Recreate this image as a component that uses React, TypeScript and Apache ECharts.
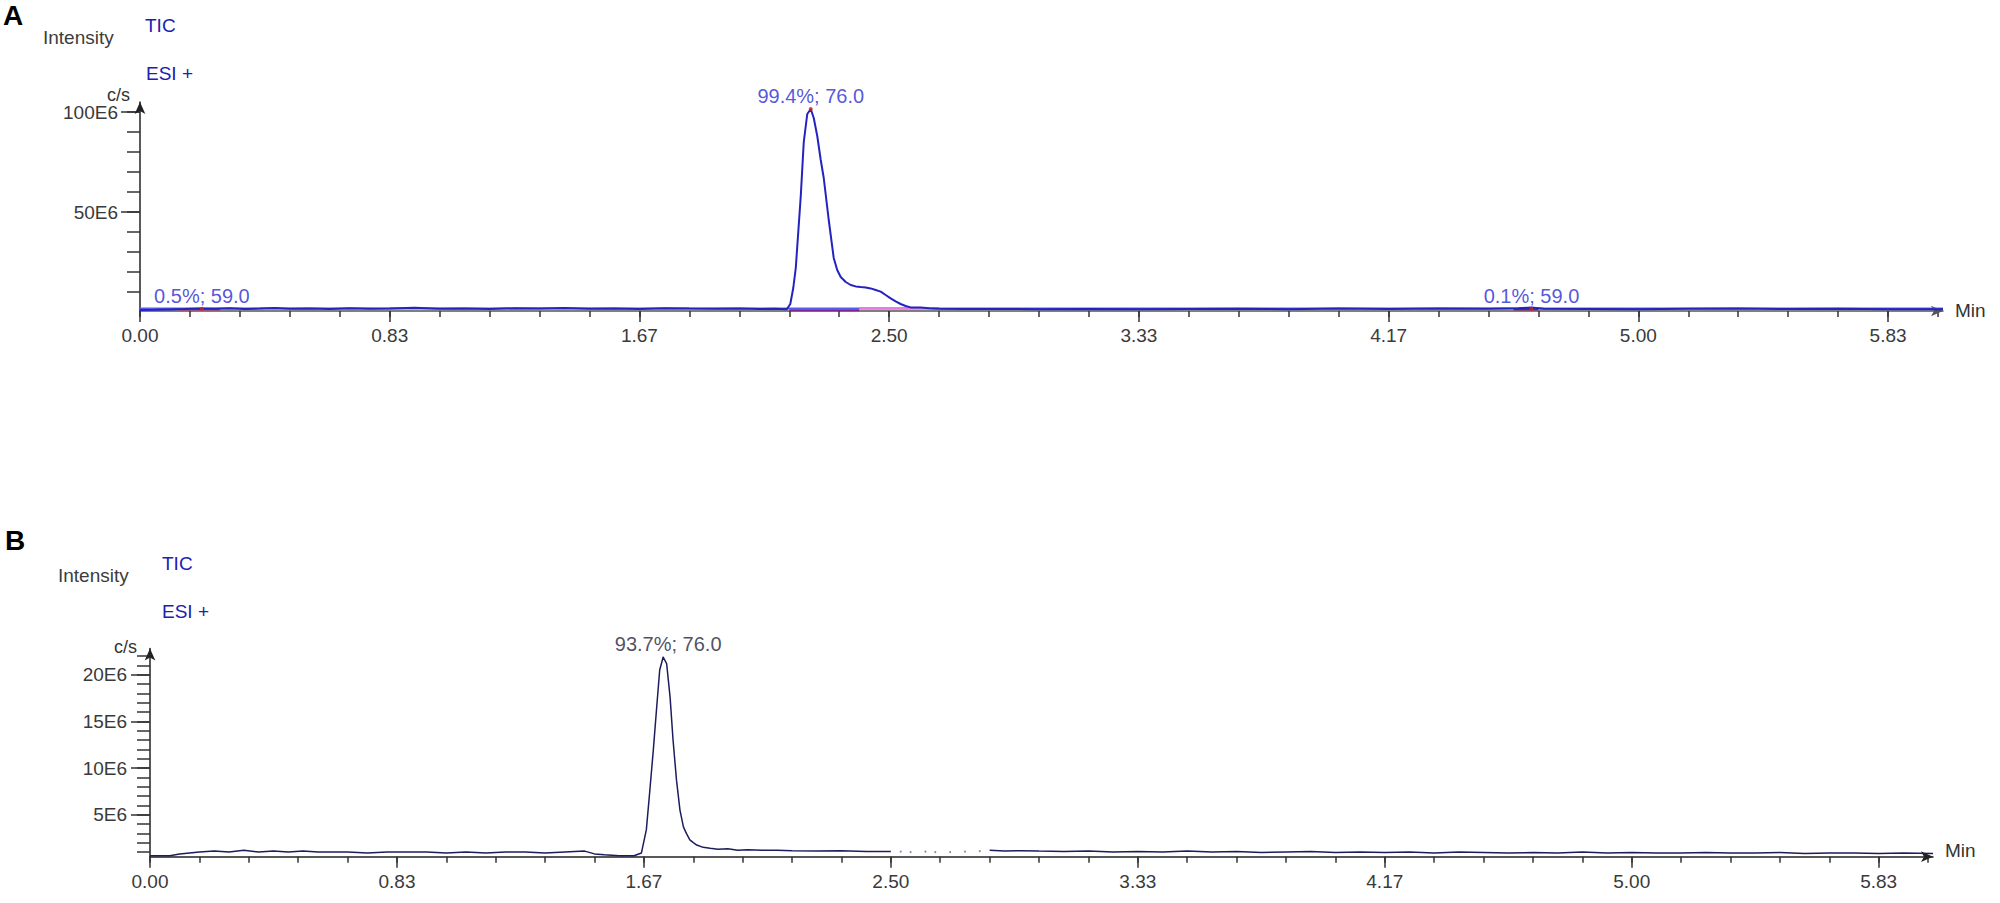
import React, { useEffect, useRef } from 'react';
import * as echarts from 'echarts';

// ---------- Axis ticks (time in seconds, intensity in E6 c/s) ----------
const xMinorTicks = [0, 10, 20, 30, 40, 50, 60, 70, 80, 90, 100, 110, 120, 130, 140, 150, 160, 170, 180, 190, 200, 210, 220, 230, 240, 250, 260, 270, 280, 290, 300, 310, 320, 330, 340, 350, 360];
const xLabelTicks = [0, 50, 100, 150, 200, 250, 300, 350];
const yMinorTicksA = [10, 20, 30, 40, 50, 60, 70, 80, 90, 100];
const yLabelTicksA = [50, 100];
const yMinorTicksB = [1, 2, 3, 4, 5, 6, 7, 8, 9, 10, 11, 12, 13, 14, 15, 16, 17, 18, 19, 20, 21, 22];
const yLabelTicksB = [5, 10, 15, 20];

// ---------- Panel A : TIC trace ----------
const timeA = [0, 3, 6, 9, 12, 15, 18, 21, 24, 27, 30, 34, 38, 42, 46, 50, 55, 60, 65, 70, 75, 80, 85, 90, 95, 100, 105, 110, 115, 120, 124, 127, 129.5, 130.2, 130.8, 131.3, 131.8, 132.3, 132.9, 133.6, 134.3, 134.9, 135.6, 136.3, 136.9, 137.9, 138.9, 139.6, 140.3, 141.3, 142.3, 143.3, 144.3, 145.3, 146.3, 147.3, 148.3, 149.3, 150.3, 151.3, 152.3, 153.3, 154.3, 155.3, 156.3, 158, 160, 165, 170, 180, 190, 200, 210, 220, 230, 240, 250, 260, 270, 276, 278.6, 281, 290, 300, 310, 320, 330, 340, 350, 361];
const intensityA = [1.0, 1.1, 1.3, 1.5, 1.8, 1.6, 1.9, 1.5, 1.7, 2.0, 1.6, 1.8, 1.5, 1.9, 1.6, 1.7, 2.1, 1.6, 1.8, 1.5, 1.9, 1.7, 2.0, 1.6, 1.8, 1.5, 1.9, 1.7, 1.6, 1.8, 1.5, 1.6, 1.4, 4, 12, 22, 40, 58, 85, 99, 101.5, 97, 88, 76, 67, 46, 27, 21, 17.5, 15, 13.5, 12.8, 12.5, 12.3, 11.8, 11, 10.2, 8.5, 6.8, 5.3, 4.0, 3.0, 2.3, 2.2, 2.2, 1.9, 1.6, 1.5, 1.5, 1.4, 1.5, 1.4, 1.5, 1.6, 1.4, 1.7, 1.5, 1.8, 1.6, 1.9, 2.2, 1.6, 1.5, 1.4, 1.6, 1.8, 1.5, 1.6, 1.4, 1.4];
const baselineTimeA = [0, 361];
const baselineLevelA = [1.7, 1.7];
const integStartA = [8, 130, 144, 275];
const integEndA = [16, 144, 160, 280];
const integLevelA = [1.3, 0.9, 1.9, 1.3];
const peakTimeA = [12.4, 134.3, 278.6];
const peakValueA = [1.6, 101.5, 1.6];
const peakTextA = ['0.5%; 59.0', '99.4%; 76.0', '0.1%; 59.0'];

// ---------- Panel B : TIC trace ----------
const timeB = [0, 4, 6, 8, 10, 13, 16, 19, 22, 25, 28, 31, 34, 37, 40, 44, 48, 52, 56, 60, 64, 68, 72, 76, 80, 84, 88, 90, 92, 95, 98, 99.5, 100.5, 101.2, 101.9, 102.6, 103.2, 103.9, 104.6, 105.3, 105.9, 106.6, 107.3, 108.0, 108.6, 109.3, 110.0, 110.7, 112, 113.4, 115, 117, 119, 121, 124, 127, 130, 135, 140, 145, 150, 151, 170, 173, 176, 180, 185, 190, 195, 200, 205, 210, 215, 220, 225, 230, 235, 240, 245, 250, 255, 260, 265, 270, 275, 280, 285, 290, 295, 300, 305, 310, 315, 320, 325, 330, 335, 340, 345, 350, 355, 361];
const intensityB = [0.6, 0.6, 0.8, 0.9, 1.0, 1.1, 1.0, 1.2, 1.0, 1.1, 1.0, 1.1, 1.0, 1.0, 1.0, 0.9, 1.0, 1.0, 1.0, 0.9, 1.0, 0.9, 1.0, 1.0, 0.9, 1.0, 1.1, 0.8, 0.7, 0.6, 0.6, 0.9, 3.4, 7.6, 11.9, 16.6, 20.5, 21.9, 21.2, 17.6, 13.0, 8.7, 5.5, 3.7, 3.0, 2.3, 2.0, 1.75, 1.5, 1.4, 1.3, 1.35, 1.2, 1.25, 1.2, 1.2, 1.15, 1.1, 1.15, 1.05, 1.05, null, 1.2, 1.1, 1.15, 1.1, 1.05, 1.1, 1.0, 1.05, 1.0, 1.1, 1.0, 1.05, 0.95, 1.0, 1.05, 0.95, 1.0, 0.95, 1.0, 0.9, 1.0, 0.95, 0.9, 0.95, 0.9, 1.0, 0.9, 0.95, 0.9, 0.9, 0.95, 0.9, 0.9, 0.95, 0.85, 0.9, 0.9, 0.85, 0.9, 0.85];
const dotTimeB = [152, 154, 157, 159, 162, 165, 168];
const dotValueB = [1.05, 1.0, 1.05, 1.0, 1.0, 1.05, 1.1];
const peakTimeB = [103.9];
const peakValueB = [21.9];
const peakTextB = ['93.7%; 76.0'];

const FONT = 'Arial, "Liberation Sans", sans-serif';
const integColors = ['#b0306a', '#7a2a8a', '#e878e0', '#8a1a3a'];

function makeAxes(gridIndex: number, ymax: number, yMinor: number[], yLabel: number[], yMargin: number, axisColor: string) {
  const xBase = {
    type: 'value', gridIndex, min: 0, max: 361, position: 'bottom',
    splitLine: { show: false },
  };
  const yBase = {
    type: 'value', gridIndex, min: 0.5, max: ymax, position: 'left',
    splitLine: { show: false },
  };
  const x = [
    {
      ...xBase,
      axisLine: { show: true, onZero: false, symbol: ['none', 'arrow'], symbolSize: [8, 12], lineStyle: { color: axisColor, width: 1.5 } },
      axisTick: { show: true, customValues: xMinorTicks, length: 6, lineStyle: { color: '#333', width: 1.5 } },
      axisLabel: { show: false },
    },
    {
      ...xBase,
      axisLine: { show: false, onZero: false },
      axisTick: { show: true, customValues: xLabelTicks, length: 11, lineStyle: { color: '#333', width: 1.5 } },
      axisLabel: {
        show: true, customValues: xLabelTicks, margin: 15, fontSize: 19, fontFamily: FONT, color: '#3a3a3a',
        formatter: (v: number) => (v / 60).toFixed(2),
      },
    },
  ];
  const y = [
    {
      ...yBase,
      axisLine: { show: true, onZero: false, symbol: ['none', 'arrow'], symbolSize: [8, 12], lineStyle: { color: '#222', width: 1.5 } },
      axisTick: { show: true, customValues: yMinor, length: 13, lineStyle: { color: '#333', width: 1.5 } },
      axisLabel: { show: false },
    },
    {
      ...yBase,
      axisLine: { show: false, onZero: false },
      axisTick: { show: true, customValues: yLabel, length: 19, lineStyle: { color: '#333', width: 1.5 } },
      axisLabel: {
        show: true, customValues: yLabel, margin: yMargin, fontSize: 19, fontFamily: FONT, color: '#3a3a3a',
        formatter: (v: number) => `${v}E6`,
      },
    },
  ];
  return { x, y };
}

function text(x: number, y: number, t: string, font: string, fill: string, align = 'left') {
  return {
    type: 'text', x, y, z: 100,
    style: { text: t, font, fill, textAlign: align, textVerticalAlign: 'middle', align, verticalAlign: 'middle' },
  };
}

export default function App() {
  const ref = useRef<HTMLDivElement>(null);
  useEffect(() => {
    document.body.style.margin = '0';
    if (!ref.current) return;
    const chart = echarts.init(ref.current, undefined, { renderer: 'svg' });

    const axA = makeAxes(0, 105, yMinorTicksA, yLabelTicksA, 22, '#555');
    const axB = makeAxes(1, 22.8, yMinorTicksB, yLabelTicksB, 23, '#222');

    const lineBase = { type: 'line', showSymbol: false, symbol: 'none', silent: true, animation: false };

    const series: any[] = [];
    // Panel A
    series.push({
      ...lineBase, name: 'A baseline', xAxisIndex: 0, yAxisIndex: 0, z: 2,
      data: baselineTimeA.map((t, i) => [t, baselineLevelA[i]]),
      lineStyle: { color: '#5a5af2', width: 2 },
    });
    integStartA.forEach((s, i) => {
      series.push({
        ...lineBase, name: `A integration ${i}`, xAxisIndex: 0, yAxisIndex: 0, z: 3,
        data: [[s, integLevelA[i]], [integEndA[i], integLevelA[i]]],
        lineStyle: { color: integColors[i], width: 2 },
      });
    });
    series.push({
      ...lineBase, name: 'A TIC', xAxisIndex: 0, yAxisIndex: 0, z: 4,
      data: timeA.map((t, i) => [t, intensityA[i]]),
      lineStyle: { color: '#2323c0', width: 2 },
    });
    series.push({
      type: 'scatter', name: 'A peaks', xAxisIndex: 0, yAxisIndex: 0, z: 5, silent: true,
      symbolSize: 4, itemStyle: { color: '#cc2222' },
      data: peakTimeA.map((t, i) => ({ value: [t, peakValueA[i]], name: peakTextA[i] })),
      label: {
        show: true, position: 'top', distance: 1, formatter: (p: any) => p.name,
        fontSize: 20, fontFamily: FONT, color: '#2a2ad0',
      },
    });
    // Panel B
    series.push({
      ...lineBase, name: 'B TIC', xAxisIndex: 2, yAxisIndex: 2, z: 4,
      data: timeB.map((t, i) => [t, intensityB[i] == null ? '-' : intensityB[i]]),
      lineStyle: { color: '#1d1d5e', width: 1.5 },
    });
    series.push({
      type: 'scatter', name: 'B dots', xAxisIndex: 2, yAxisIndex: 2, z: 4, silent: true,
      symbolSize: 2, itemStyle: { color: '#6a6aa8' },
      data: dotTimeB.map((t, i) => [t, dotValueB[i]]),
    });
    series.push({
      type: 'scatter', name: 'B peaks', xAxisIndex: 2, yAxisIndex: 2, z: 5, silent: true,
      symbolSize: 1, itemStyle: { color: '#1d1d5e' },
      data: peakTimeB.map((t, i) => ({ value: [t, peakValueB[i]], name: peakTextB[i] })),
      label: {
        show: true, position: 'top', distance: 2, offset: [5, 0], formatter: (p: any) => p.name,
        fontSize: 20, fontFamily: FONT, color: '#22223a',
      },
    });

    chart.setOption({
      animation: false,
      backgroundColor: '#ffffff',
      grid: [
        { left: 140, right: 57, top: 102, bottom: 592 },
        { left: 150, right: 67, top: 648.6, bottom: 46.3 },
      ],
      xAxis: [...axA.x, ...axB.x],
      yAxis: [...axA.y, ...axB.y],
      series,
      graphic: [
        text(3, 15, 'A', `bold 28px ${FONT}`, '#000'),
        text(43, 37, 'Intensity', `19px ${FONT}`, '#3c3c3c'),
        text(145, 25, 'TIC', `19px ${FONT}`, '#2020b0'),
        text(146, 73, 'ESI +', `19px ${FONT}`, '#2020b0'),
        text(130, 95, 'c/s', `18px ${FONT}`, '#333', 'right'),
        text(1955, 310, 'Min', `19px ${FONT}`, '#333'),
        text(5, 540, 'B', `bold 28px ${FONT}`, '#000'),
        text(58, 575, 'Intensity', `19px ${FONT}`, '#3c3c3c'),
        text(162, 563, 'TIC', `19px ${FONT}`, '#2020b0'),
        text(162, 611, 'ESI +', `19px ${FONT}`, '#2020b0'),
        text(137, 647, 'c/s', `18px ${FONT}`, '#333', 'right'),
        text(1945, 850, 'Min', `19px ${FONT}`, '#333'),
      ],
    });
    return () => chart.dispose();
  }, []);
  return <div ref={ref} style={{ width: 2000, height: 903 }} />;
}
